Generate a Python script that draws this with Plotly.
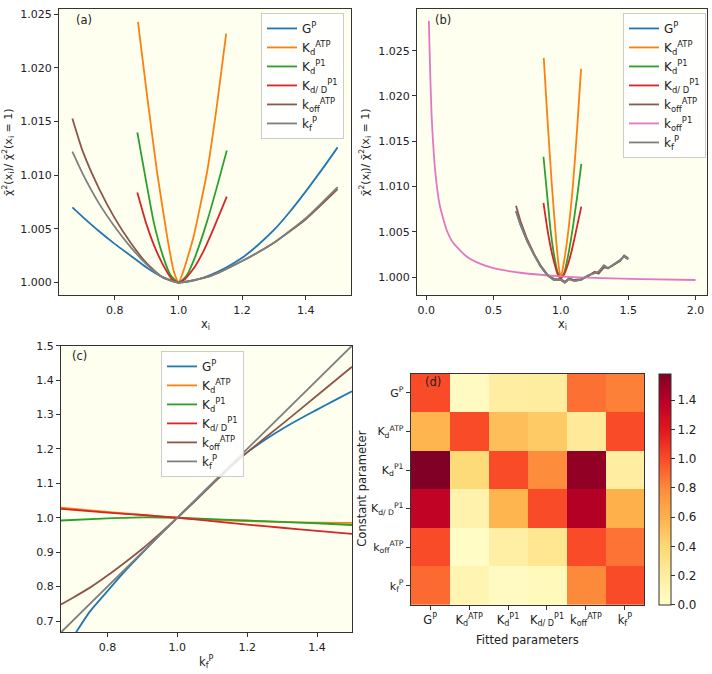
import plotly.graph_objects as go

# ---------------- colours (matplotlib tab10) ----------------
C_BLUE, C_ORANGE, C_GREEN, C_RED = "#1f77b4", "#ff7f0e", "#2ca02c", "#d62728"
C_BROWN, C_PINK, C_GRAY = "#8c564b", "#e377c2", "#7f7f7f"

# ---------------- labels ----------------
lab_G = "G<sup>P</sup>"
lab_KdATP = "K<sub>d</sub><sup>ATP</sup>"
lab_KdP1 = "K<sub>d</sub><sup>P1</sup>"
lab_KdD = "K<sub>d/ D</sub><sup>P1</sup>"
lab_koffATP = "k<sub>off</sub><sup>ATP</sup>"
lab_koffP1 = "k<sub>off</sub><sup>P1</sup>"
lab_kf = "k<sub>f</sub><sup>P</sup>"

# ---------------- panel (a) data ----------------
a_G_x = [0.667, 0.7, 0.75, 0.8, 0.85, 0.9, 0.95, 1.0, 1.05, 1.1, 1.15, 1.2, 1.25, 1.3, 1.35, 1.4, 1.45, 1.5]
a_G_y = [1.0070, 1.0061, 1.0048, 1.0036, 1.0025, 1.0014, 1.0005, 1.0, 1.0002, 1.0007, 1.0014, 1.0023, 1.0035, 1.0049, 1.0066, 1.0085, 1.0105, 1.0126]
a_KdATP_x = [0.873, 0.9, 0.933, 0.965, 0.985, 1.0, 1.015, 1.047, 1.09, 1.12, 1.15]
a_KdATP_y = [1.0243, 1.0178, 1.0103, 1.0042, 1.0011, 1.0, 1.0010, 1.0042, 1.0103, 1.0163, 1.0232]
a_KdP1_x = [0.871, 0.9, 0.922, 0.95, 0.975, 1.0, 1.025, 1.05, 1.09, 1.12, 1.152]
a_KdP1_y = [1.0140, 1.0092, 1.0057, 1.0026, 1.0007, 1.0, 1.0006, 1.0022, 1.0057, 1.0088, 1.0123]
a_KdD_x = [0.871, 0.9, 0.93, 0.96, 0.98, 1.0, 1.02, 1.05, 1.08, 1.11, 1.152]
a_KdD_y = [1.0084, 1.0054, 1.0030, 1.0012, 1.0003, 1.0, 1.0003, 1.0014, 1.0030, 1.0050, 1.0080]
a_koff_x = [0.667, 0.7, 0.75, 0.8, 0.85, 0.9, 0.95, 1.0, 1.1, 1.2, 1.3, 1.4, 1.5]
a_koff_y = [1.0153, 1.0122, 1.0088, 1.0060, 1.0037, 1.0018, 1.0005, 1.0, 1.0006, 1.0020, 1.0037, 1.0059, 1.0087]
a_kf_x = [0.667, 0.7, 0.75, 0.8, 0.85, 0.9, 0.95, 1.0, 1.1, 1.2, 1.3, 1.4, 1.5]
a_kf_y = [1.0122, 1.0101, 1.0074, 1.0052, 1.0033, 1.0017, 1.0005, 1.0, 1.0006, 1.0020, 1.0037, 1.0060, 1.0089]

# ---------------- panel (b) data ----------------
b_KdATP_x = [0.873, 0.9, 0.933, 0.965, 0.985, 1.0, 1.015, 1.047, 1.09, 1.12, 1.15]
b_KdATP_y = [1.0242, 1.0176, 1.0102, 1.0041, 1.0011, 1.0, 1.0010, 1.0041, 1.0102, 1.0162, 1.0230]
b_KdP1_x = [0.871, 0.9, 0.922, 0.95, 0.975, 1.0, 1.025, 1.05, 1.09, 1.12, 1.152]
b_KdP1_y = [1.0133, 1.0088, 1.0054, 1.0024, 1.0006, 0.9999, 1.0005, 1.0021, 1.0056, 1.0088, 1.0125]
b_KdD_x = [0.871, 0.9, 0.93, 0.96, 0.98, 1.0, 1.02, 1.05, 1.08, 1.11, 1.152]
b_KdD_y = [1.0082, 1.0053, 1.0029, 1.0011, 1.0002, 0.9999, 1.0002, 1.0013, 1.0029, 1.0049, 1.0078]
b_noisy_x = [0.667, 0.7, 0.75, 0.8, 0.85, 0.9, 0.95, 1.0, 1.03, 1.06, 1.1, 1.15, 1.2, 1.25, 1.28, 1.32, 1.35, 1.4, 1.44, 1.47, 1.5]
b_koff_y = [1.0079, 1.0062, 1.0042, 1.0026, 1.0013, 1.0003, 0.9998, 0.9998, 0.9995, 0.9999, 0.9997, 0.9998, 1.0001, 1.0006, 1.0004, 1.0011, 1.0010, 1.0014, 1.0018, 1.0024, 1.0021]
b_kf_y = [1.0073, 1.0058, 1.0040, 1.0025, 1.0012, 1.0002, 0.9997, 0.9997, 0.9994, 0.9998, 0.9996, 0.9997, 1.0002, 1.0004, 1.0006, 1.0013, 1.0010, 1.0015, 1.0019, 1.0023, 1.0020]
b_koffP1_x = [0.02, 0.03, 0.04, 0.05, 0.07, 0.1, 0.15, 0.2, 0.3, 0.4, 0.5, 0.7, 1.0, 1.3, 1.6, 2.0]
b_koffP1_y = [1.0283, 1.0225, 1.0180, 1.0152, 1.0113, 1.0080, 1.0053, 1.0038, 1.0023, 1.0015, 1.0010, 1.0005, 1.0001, 0.9999, 0.9998, 0.9997]

# ---------------- panel (c) data ----------------
c_G_x = [0.71, 0.75, 0.8, 0.85, 0.9, 0.95, 1.0, 1.05, 1.1, 1.15, 1.2, 1.25, 1.3, 1.35, 1.4, 1.45, 1.5]
c_G_y = [0.667, 0.728, 0.787, 0.845, 0.898, 0.95, 1.0, 1.05, 1.1, 1.148, 1.19, 1.226, 1.258, 1.287, 1.314, 1.341, 1.3675]
c_x = [0.667, 0.8, 0.9, 1.0, 1.1, 1.2, 1.3, 1.4, 1.5]
c_KdATP_y = [1.029, 1.017, 1.0085, 1.0, 0.994, 0.99, 0.9875, 0.986, 0.985]
c_KdP1_y = [0.992, 0.998, 1.001, 1.0, 0.996, 0.992, 0.988, 0.984, 0.979]
c_KdD_y = [1.026, 1.015, 1.008, 1.0, 0.99, 0.98, 0.971, 0.962, 0.953]
c_koff_x = [0.667, 0.7, 0.75, 0.8, 0.85, 0.9, 0.95, 1.0, 1.05, 1.1, 1.15, 1.2, 1.3, 1.4, 1.5]
c_koff_y = [0.748, 0.767, 0.797, 0.832, 0.87, 0.91, 0.954, 1.0, 1.048, 1.097, 1.146, 1.19, 1.272, 1.355, 1.4386]
c_kf_x = [0.667, 1.5]
c_kf_y = [0.667, 1.5]

# ---------------- panel (d) data ----------------
d_labels = [lab_G, lab_KdATP, lab_KdP1, lab_KdD, lab_koffATP, lab_kf]
d_z = [
    [1.00, 0.05, 0.19, 0.20, 0.88, 0.83],
    [0.58, 1.00, 0.53, 0.47, 0.23, 1.00],
    [1.58, 0.38, 1.00, 0.79, 1.52, 0.19],
    [1.36, 0.14, 0.58, 1.00, 1.41, 0.60],
    [1.00, 0.03, 0.18, 0.27, 1.00, 0.87],
    [0.90, 0.12, 0.05, 0.07, 0.80, 1.00],
]
d_ticks = [0.0, 0.2, 0.4, 0.6, 0.8, 1.0, 1.2, 1.4]

YLORRD = [[0.0, "#ffffcc"], [0.125, "#ffeda0"], [0.25, "#fed976"], [0.375, "#feb24c"],
          [0.5, "#fd8d3c"], [0.625, "#fc4e2a"], [0.75, "#e31a1c"], [0.875, "#bd0026"], [1.0, "#800026"]]

FONT = "DejaVu Sans"
LW = 1.8
BG = "#fffff0"
TXT = "#222"

fig = go.Figure()

def line(x, y, color, name, xa, ya, leg, shape="spline", show=True):
    fig.add_trace(go.Scatter(x=x, y=y, mode="lines", name=name,
                             line=dict(color=color, width=LW, shape=shape, smoothing=0.5),
                             xaxis=xa, yaxis=ya, legend=leg, showlegend=show))

# (a)
line(a_G_x, a_G_y, C_BLUE, lab_G, "x", "y", "legend")
line(a_KdATP_x, a_KdATP_y, C_ORANGE, lab_KdATP, "x", "y", "legend")
line(a_KdP1_x, a_KdP1_y, C_GREEN, lab_KdP1, "x", "y", "legend")
line(a_KdD_x, a_KdD_y, C_RED, lab_KdD, "x", "y", "legend")
line(a_koff_x, a_koff_y, C_BROWN, lab_koffATP, "x", "y", "legend")
line(a_kf_x, a_kf_y, C_GRAY, lab_kf, "x", "y", "legend")

# (b)
line(b_noisy_x, b_kf_y, C_BLUE, lab_G, "x2", "y2", "legend2", shape="linear")
line(b_KdATP_x, b_KdATP_y, C_ORANGE, lab_KdATP, "x2", "y2", "legend2")
line(b_KdP1_x, b_KdP1_y, C_GREEN, lab_KdP1, "x2", "y2", "legend2")
line(b_KdD_x, b_KdD_y, C_RED, lab_KdD, "x2", "y2", "legend2")
line(b_noisy_x, b_koff_y, C_BROWN, lab_koffATP, "x2", "y2", "legend2", shape="linear")
line(b_koffP1_x, b_koffP1_y, C_PINK, lab_koffP1, "x2", "y2", "legend2")
line(b_noisy_x, b_kf_y, C_GRAY, lab_kf, "x2", "y2", "legend2", shape="linear")

# (c)
line(c_G_x, c_G_y, C_BLUE, lab_G, "x3", "y3", "legend3")
line(c_x, c_KdATP_y, C_ORANGE, lab_KdATP, "x3", "y3", "legend3")
line(c_x, c_KdP1_y, C_GREEN, lab_KdP1, "x3", "y3", "legend3")
line(c_x, c_KdD_y, C_RED, lab_KdD, "x3", "y3", "legend3")
line(c_koff_x, c_koff_y, C_BROWN, lab_koffATP, "x3", "y3", "legend3")
line(c_kf_x, c_kf_y, C_GRAY, lab_kf, "x3", "y3", "legend3", shape="linear")

# (d)
zmax = max(max(r) for r in d_z)
fig.add_trace(go.Heatmap(
    z=d_z, x=d_labels, y=d_labels, colorscale=YLORRD, zmin=0.0, zmax=zmax,
    xaxis="x4", yaxis="y4", showscale=True,
    colorbar=dict(x=659 / 712, xanchor="left", xpad=0, ypad=0, thickness=12,
                  len=233 / 674, lenmode="fraction", y=1 - 604.3 / 674, yanchor="bottom",
                  outlinewidth=1, outlinecolor="#333", tickvals=d_ticks, tickformat=".1f",
                  ticks="outside", ticklen=4, tickcolor="#333",
                  tickfont=dict(size=12, family=FONT, color=TXT)),
))

axis_common = dict(showgrid=False, zeroline=False, showline=True, mirror=True, linecolor="#333",
                   linewidth=1, ticks="outside", ticklen=4, tickcolor="#333",
                   tickfont=dict(size=11, family=FONT, color=TXT))

ya_top = [1 - 292 / 674, 1 - 3 / 674]
ylabel_top = "χ̄<sup>2</sup>(x<sub>i</sub>)/ χ̄<sup>2</sup>(x<sub>i</sub> = 1)"
tf = dict(size=11, family=FONT, color=TXT)
legfont = dict(size=12, family=FONT, color=TXT)
legcommon = dict(xanchor="right", yanchor="top", bgcolor="rgba(255,255,255,0.85)",
                 bordercolor="#ccc", borderwidth=1, font=legfont, itemwidth=30, tracegroupgap=0)

fig.update_layout(
    width=712, height=674, margin=dict(l=0, r=0, t=0, b=0),
    paper_bgcolor="white", plot_bgcolor=BG,
    font=dict(family=FONT, size=11, color=TXT),
    xaxis=dict(axis_common, domain=[59 / 712, 351 / 712], range=[0.625, 1.542],
               tickvals=[0.8, 1.0, 1.2, 1.4], tickformat=".1f", anchor="y"),
    yaxis=dict(axis_common, domain=ya_top, range=[0.9988, 1.0255],
               tickvals=[1.0, 1.005, 1.01, 1.015, 1.02, 1.025], tickformat=".3f",
               title=dict(text=ylabel_top, font=tf, standoff=6), anchor="x"),
    xaxis2=dict(axis_common, domain=[417 / 712, 707 / 712], range=[-0.068, 2.085],
                tickvals=[0.0, 0.5, 1.0, 1.5, 2.0], tickformat=".1f", anchor="y2"),
    yaxis2=dict(axis_common, domain=ya_top, range=[0.998, 1.0296],
                tickvals=[1.0, 1.005, 1.01, 1.015, 1.02, 1.025], tickformat=".3f",
                title=dict(text=ylabel_top, font=tf, standoff=6), anchor="x2"),
    xaxis3=dict(axis_common, domain=[61 / 712, 352 / 712], range=[0.667, 1.5],
                tickvals=[0.8, 1.0, 1.2, 1.4], tickformat=".1f", anchor="y3"),
    yaxis3=dict(axis_common, domain=[1 - 632 / 674, 1 - 342.7 / 674], range=[0.667, 1.5],
                tickvals=[0.7, 0.8, 0.9, 1.0, 1.1, 1.2, 1.3, 1.4, 1.5], tickformat=".1f",
                anchor="x3"),
    xaxis4=dict(axis_common, domain=[410.7 / 712, 644.3 / 712], anchor="y4",
                tickfont=dict(size=11.5, family=FONT, color=TXT)),
    yaxis4=dict(axis_common, domain=[1 - 604.3 / 674, 1 - 371 / 674], anchor="x4", autorange="reversed",
                tickfont=dict(size=11, family=FONT, color=TXT)),
    legend=dict(legcommon, x=344 / 712, y=1 - 7 / 674),
    legend2=dict(legcommon, x=706 / 712, y=1 - 7 / 674),
    legend3=dict(legcommon, x=244 / 712, y=1 - 348 / 674),
)

# axis titles placed as paper annotations
for txt, px, py, ang in [("x<sub>i</sub>", 205, 321, 0),
                         ("x<sub>i</sub>", 562, 321, 0),
                         ("k<sub>f</sub><sup>P</sup>", 206, 662, 0),
                         ("Fitted parameters", 527, 640, 0),
                         ("Constant parameter", 362, 487, -90)]:
    fig.add_annotation(text=txt, xref="paper", yref="paper", x=px / 712, y=1 - py / 674,
                       xanchor="center", yanchor="middle", textangle=ang, showarrow=False,
                       font=dict(size=11.5, family=FONT, color=TXT))

for txt, xr, yr, xx, yy in [("(a)", "x domain", "y domain", 0.05, 0.962),
                            ("(b)", "x2 domain", "y2 domain", 0.055, 0.962),
                            ("(c)", "x3 domain", "y3 domain", 0.031, 0.964),
                            ("(d)", "x4 domain", "y4 domain", 0.051, 0.964)]:
    fig.add_annotation(text=txt, xref=xr, yref=yr, x=xx, y=yy, xanchor="left", yanchor="middle",
                       showarrow=False, font=dict(size=11.5, family=FONT, color=TXT))

fig.write_html("out.html", config={"displayModeBar": False},
               post_script="document.body.style.margin='0';document.body.style.overflow='hidden';")
